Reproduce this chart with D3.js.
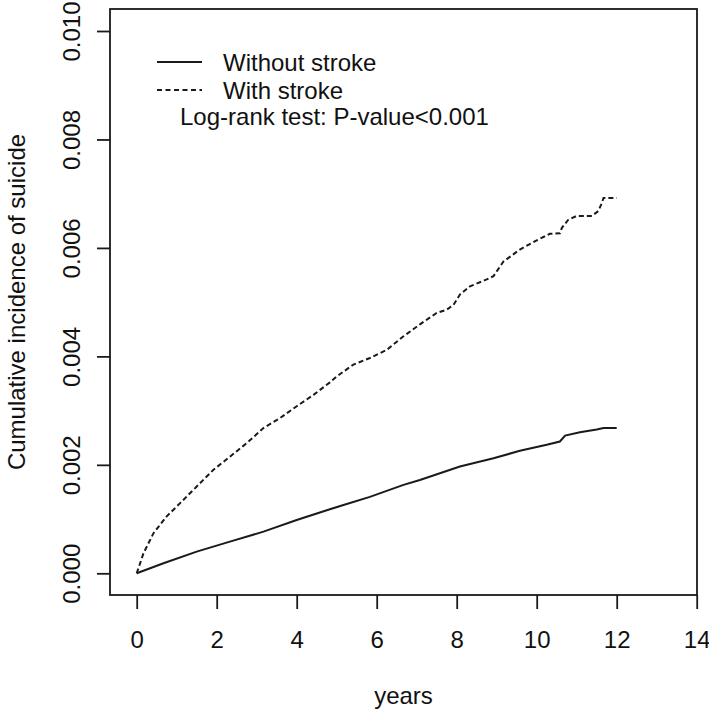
<!DOCTYPE html>
<html>
<head>
<meta charset="utf-8">
<script src="https://cdn.jsdelivr.net/npm/d3@7"></script>
<style>
  html, body { margin: 0; padding: 0; background: #fff; }
  svg { display: block; }
  text { font-family: "Liberation Sans", Arial, sans-serif; fill: #111; }
</style>
</head>
<body>
<svg id="chart" width="709" height="711"></svg>
<script>
// ---- data ----
const xTicks = [0, 2, 4, 6, 8, 10, 12, 14];
const yTicks = [0.000, 0.002, 0.004, 0.006, 0.008, 0.010];
const yTickLabels = ["0.000", "0.002", "0.004", "0.006", "0.008", "0.010"];

const withoutYears = [0, 0.67, 1.5, 2.33, 3.17, 4.0, 4.83, 5.17, 5.83, 6.67, 7.08, 8.08, 8.92, 9.58, 10.25, 10.58, 10.71, 11.08, 11.5, 11.67, 12.0];
const withoutValues = [0, 0.000185, 0.0004, 0.000584, 0.000768, 0.000984, 0.00118, 0.00126, 0.00141, 0.00163, 0.00172, 0.00197, 0.00212, 0.00226, 0.00237, 0.00243, 0.00254, 0.0026, 0.00265, 0.00268, 0.00268];

const withYears = [0, 0.17, 0.42, 0.75, 1.08, 1.5, 1.92, 2.33, 2.75, 3.17, 3.58, 4.0, 4.42, 4.83, 5.0, 5.42, 5.83, 6.25, 6.67, 7.08, 7.5, 7.75, 7.92, 8.08, 8.33, 8.75, 8.92, 9.17, 9.58, 10.0, 10.33, 10.58, 10.63, 10.79, 11.0, 11.38, 11.54, 11.63, 11.67, 12.0];
const withValues = [0, 0.00037, 0.00074, 0.00105, 0.00129, 0.0016, 0.00191, 0.00215, 0.0024, 0.00268, 0.00286, 0.00308, 0.00329, 0.00352, 0.00363, 0.00385, 0.00397, 0.00412, 0.00437, 0.00459, 0.0048, 0.00486, 0.00495, 0.00514, 0.00529, 0.00542, 0.00548, 0.00575, 0.00597, 0.00614, 0.00626, 0.00627, 0.00637, 0.00652, 0.00659, 0.00659, 0.00668, 0.00683, 0.00692, 0.00692];

const legendLabels = ["Without stroke", "With stroke"];
const testLabel = "Log-rank test: P-value<0.001";
const xTitle = "years";
const yTitle = "Cumulative incidence of suicide";

// ---- layout ----
const box = { left: 110, top: 9, right: 697, bottom: 595 };
const ink = "#1a1a1a";
const fontSize = 24;

const svg = d3.select("#chart");

const x = d3.scaleLinear().domain([0, 14]).range([136.7, 696.7]);
const y = d3.scaleLinear().domain([0, 0.010]).range([573.3, 31]);

// plot box
svg.append("rect")
  .attr("x", box.left).attr("y", box.top)
  .attr("width", box.right - box.left).attr("height", box.bottom - box.top)
  .attr("fill", "none").attr("stroke", ink).attr("stroke-width", 1.8);

// x axis
const xAxis = d3.axisBottom(x).tickValues(xTicks).tickSize(14).tickPadding(22)
  .tickFormat(d3.format("d"));
const gx = svg.append("g").attr("transform", `translate(0,${box.bottom})`).call(xAxis);
gx.select(".domain").remove();
gx.selectAll(".tick line").attr("stroke", ink).attr("stroke-width", 1.8);
gx.selectAll(".tick text").attr("font-size", fontSize).attr("fill", ink)
  .style("font-family", "'Liberation Sans', Arial, sans-serif");

// y axis (rotated labels, R style)
const yAxis = d3.axisLeft(y).tickValues(yTicks).tickSize(13)
  .tickFormat((d, i) => yTickLabels[i]);
const gy = svg.append("g").attr("transform", `translate(${box.left},0)`).call(yAxis);
gy.select(".domain").remove();
gy.selectAll(".tick line").attr("stroke", ink).attr("stroke-width", 1.8);
gy.selectAll(".tick text")
  .attr("font-size", fontSize).attr("fill", ink)
  .style("font-family", "'Liberation Sans', Arial, sans-serif")
  .attr("x", null).attr("dy", null)
  .attr("text-anchor", "middle")
  .attr("transform", `translate(${80 - box.left},0) rotate(-90)`)
  .attr("x", 0).attr("y", 0);

// axis titles
svg.append("text")
  .attr("x", (box.left + box.right) / 2).attr("y", 704)
  .attr("text-anchor", "middle").attr("font-size", fontSize).text(xTitle);
svg.append("text")
  .attr("transform", `translate(25,${(box.top + box.bottom) / 2}) rotate(-90)`)
  .attr("text-anchor", "middle").attr("font-size", fontSize).text(yTitle);

// curves
const line = d3.line().x(d => x(d[0])).y(d => y(d[1]));
const withoutData = withoutYears.map((t, i) => [t, withoutValues[i]]);
const withData = withYears.map((t, i) => [t, withValues[i]]);

svg.append("path").datum(withoutData).attr("d", line)
  .attr("fill", "none").attr("stroke", ink).attr("stroke-width", 2);
svg.append("path").datum(withData).attr("d", line)
  .attr("fill", "none").attr("stroke", ink).attr("stroke-width", 2)
  .attr("stroke-dasharray", "5,3");

// legend
const lg = svg.append("g");
const rows = [
  { label: legendLabels[0], yy: 62, dash: null },
  { label: legendLabels[1], yy: 90, dash: "5,3.5" }
];
rows.forEach(r => {
  lg.append("line").attr("x1", 157).attr("x2", 202).attr("y1", r.yy).attr("y2", r.yy)
    .attr("stroke", ink).attr("stroke-width", 1.8)
    .attr("stroke-dasharray", r.dash);
  lg.append("text").attr("x", 223).attr("y", r.yy + 8.5)
    .attr("font-size", fontSize).text(r.label);
});
lg.append("text").attr("x", 180).attr("y", 125)
  .attr("font-size", fontSize).text(testLabel);
</script>
</body>
</html>
